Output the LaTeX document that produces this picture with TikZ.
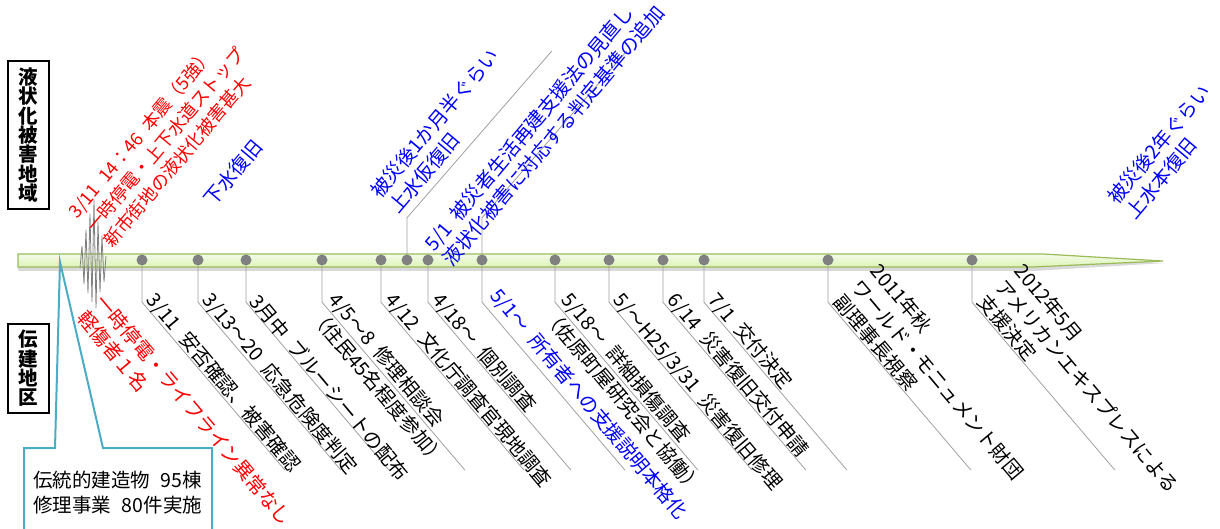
\documentclass[tikz,border=0pt]{standalone}
\usepackage{fontspec}
\setmainfont{Noto Sans CJK JP}
\usetikzlibrary{calc}
\definecolor{barfill}{HTML}{DDF3B8}
\definecolor{barfilltop}{HTML}{F3FBE8}
\definecolor{barborder}{HTML}{9BBB59}
\definecolor{dotgray}{HTML}{808080}
\definecolor{leadgray}{HTML}{A0A0A0}
\definecolor{calloutblue}{HTML}{4BACC6}
\definecolor{jred}{HTML}{FF0000}
\definecolor{jblue}{HTML}{0000FF}
\newcommand{\jgap}{\hspace{0.5em}}
\begin{document}
\begin{tikzpicture}[x=1pt,y=-1pt,
  lbl/.style={inner sep=0pt, align=left, font=\fontsize{19.5}{24}\selectfont},
  dn/.style={lbl, rotate=-50},
  upl/.style={lbl, rotate=50, anchor=south west},
  dotnode/.style={circle, fill=dotgray, minimum size=11pt, inner sep=0pt},
  leader/.style={draw=leadgray, line width=0.8pt},
  areabox/.style={draw=black, line width=1.3pt, fill=white, inner sep=0pt,
    minimum width=41pt, align=center, font=\fontsize{19.5}{19.3}\selectfont\bfseries},
  quake/.style={draw=dotgray, line width=0.8pt, line join=round}
]
\useasboundingbox (0,0) rectangle (1220,529);
\clip (0,0) rectangle (1220,529);

% timeline bar
\fill[gray!30] (18,258) -- (1043,258) -- (1165,263) -- (1033,271) -- (18,271) -- cycle;
\shadedraw[top color=barfilltop, bottom color=barfill, draw=barborder, line width=1.2pt]
  (18,254) -- (1043,254) -- (1163,261) -- (1033,267) -- (18,267) -- cycle;

% dots
\foreach \n/\x in {1/142,2/198,3/246,4/322,5/381,6/407,7/428,8/482,9/555,10/609,11/663,12/704,13/828,14/972}
  \node[dotnode] (d\n) at (\x,260) {};

% bottom leaders
\foreach \n in {1,2,3,4,5,7,8,9,10,11,12,13,14}
  \draw[leader] (d\n.south) -- ++(0,36.5) -- ++(143,168);
% top leaders
\draw[leader] (d6.north) -- ++(0,-36.5) -- ++(145,-167);
\draw[leader] (d8.north) -- ++(0,-36.5) -- ++(145,-167);

% earthquake squiggle
\draw[quake] (80,268) -- (82,246) -- (84,284) -- (86,230) -- (88,293) -- (90,214)
  -- (92,302) -- (94,200) -- (96,308) -- (98,222) -- (100,292) -- (102,236)
  -- (104,282) -- (106,256);

% callout
\coordinate (tip) at (60,262);
\filldraw[draw=calloutblue, fill=white, line width=2pt, line join=miter]
  (24,540) -- (24,448) -- (55,448) -- (tip) -- (103,448) -- (212,448) -- (212,540);
\node[lbl, anchor=west, font=\fontsize{19.5}{25}\selectfont] (note) at (33,493)
  {伝統的建造物\hspace{0.55em}95棟\\修理事業\hspace{0.55em}80件実施};

% area boxes
\node[areabox, minimum height=148pt] (liq) at (28.5,135) {液\\状\\化\\被\\害\\地\\域};
\node[areabox, minimum height=89pt] (den) at (28.5,368.5) {伝\\建\\地\\区};

% top labels
\node[upl, text=jred, font=\fontsize{18}{23}\selectfont] (t1) at (114,250)
  {3/11\jgap 14：46\jgap 本震（5強）\\一時停電・上下水道ストップ\\新市街地の液状化被害甚大};
\node[upl, text=jblue] (t2) at (215,209) {下水復旧};
\node[upl, text=jblue] (t3) at ($(d6.north)+(-7,-38)$) {被災後1か月半ぐらい\\上水仮復旧};
\node[upl, text=jblue] (t4) at (454,269)
  {5/1\jgap 被災者生活再建支援法の見直し\\液状化被害に対応する判定基準の追加};
\node[upl, text=jblue] (t5) at (1137,222) {被災後2年ぐらい\\上水本復旧};

% bottom labels
\node[dn, anchor=north west, text=jred] (b0) at (107,292) {一時停電・ライフライン異常なし\\軽傷者１名};
\node[dn, anchor=south west] (b1) at ($(d1.south)+(1,37.5)$) {3/11\jgap 安否確認、被害確認};
\node[dn, anchor=south west] (b2) at ($(d2.south)+(1,37.5)$) {3/13～20\jgap 応急危険度判定};
\node[dn, anchor=south west] (b3) at ($(d3.south)+(1,37.5)$) {3月中\jgap ブルーシートの配布};
\node[dn, anchor=west] (b4) at ($(d4.south)+(2,38)$) {4/5～8\jgap 修理相談会\\（住民45名程度参加）};
\node[dn, anchor=south west] (b5) at ($(d5.south)+(1,37.5)$) {4/12\jgap 文化庁調査官現地調査};
\node[dn, anchor=south west] (b7) at ($(d7.south)+(1,37.5)$) {4/18～\jgap 個別調査};
\node[dn, anchor=south west, text=jblue] (b8) at ($(d8.south)+(5,33)$) {5/1～\jgap 所有者への支援説明本格化};
\node[dn, anchor=west] (b9) at ($(d9.south)+(2,38)$) {5/18～\jgap 詳細損傷調査\\（佐原町屋研究会と協働）};
\node[dn, anchor=south west] (b10) at ($(d10.south)+(1,37.5)$) {5/～H25/3/31\jgap 災害復旧修理};
\node[dn, anchor=south west] (b11) at ($(d11.south)+(1,37.5)$) {6/14\jgap 災害復旧交付申請};
\node[dn, anchor=south west] (b12) at ($(d12.south)+(1,37.5)$) {7/1\jgap 交付決定};
\node[dn, anchor=south west] (b13) at ($(d13.south)+(3,38)$) {2011年秋\\ワールド・モニュメント財団\\副理事長視察};
\node[dn, anchor=south west] (b14) at ($(d14.south)+(3,38)$) {2012年5月\\アメリカンエキスプレスによる\\支援決定};
\end{tikzpicture}
\end{document}
